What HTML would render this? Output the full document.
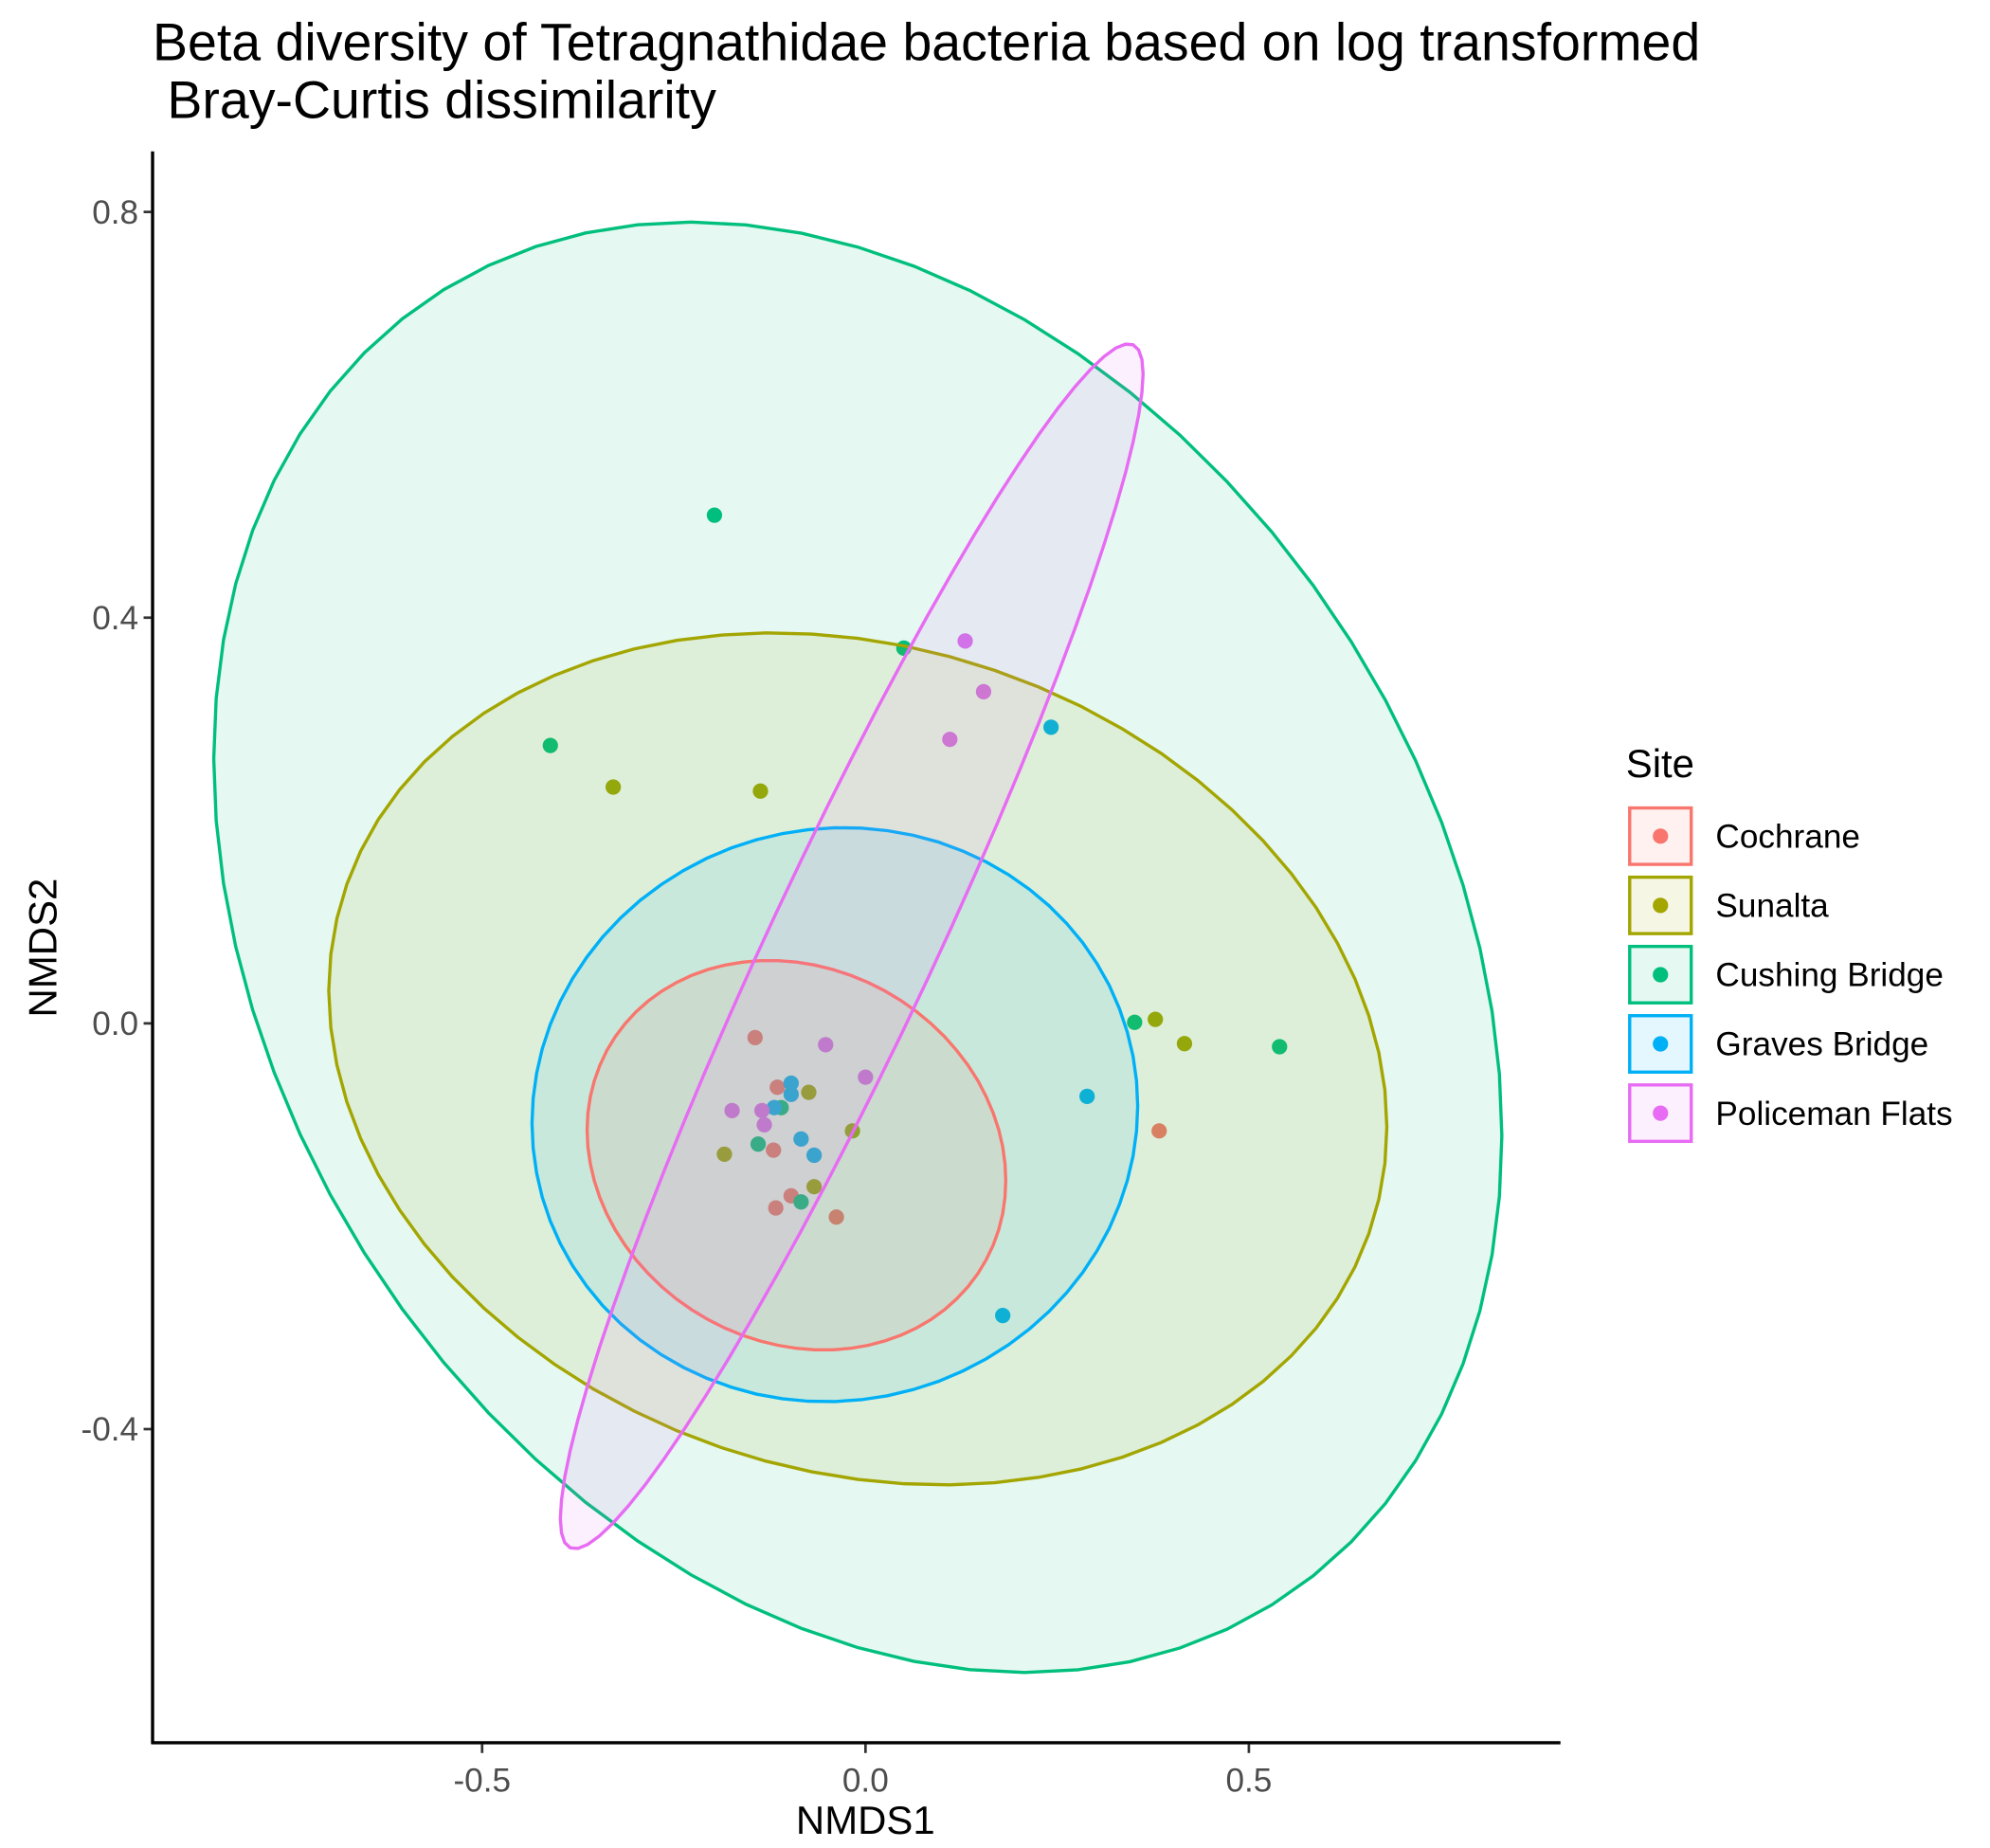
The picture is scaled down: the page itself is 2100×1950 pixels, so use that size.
<!DOCTYPE html>
<html><head><meta charset="utf-8"><style>html,body{margin:0;padding:0;background:#fff}svg{display:block}</style></head>
<body>
<svg width="2100" height="1950" viewBox="0 0 1552 1441" xmlns="http://www.w3.org/2000/svg" font-family="Liberation Sans, sans-serif">
<text x="119" y="47" font-size="41">Beta diversity of Tetragnathidae bacteria based on log transformed</text>
<text x="119" y="92" font-size="41" xml:space="preserve"> Bray-Curtis dissimilarity</text>
<g id="plot"></g>
<line x1="119" y1="118" x2="119" y2="1360" stroke="#000" stroke-width="2.5"/>
<line x1="118" y1="1359" x2="1217" y2="1359" stroke="#000" stroke-width="2.5"/>
<g id="ticks"></g>
<text x="675" y="1430" font-size="31" text-anchor="middle">NMDS1</text>
<text transform="translate(44,739) rotate(-90)" font-size="31" text-anchor="middle">NMDS2</text>
<text x="1268" y="606" font-size="31">Site</text>
<g id="legend"></g>
</svg>
<script>
const sites = ["Cochrane","Sunalta","Cushing Bridge","Graves Bridge","Policeman Flats"];
const colors = ["#F8766D","#A3A500","#00BF7D","#00B0F6","#E76BF3"];
const xs_Cochrane = [-0.144,-0.115,-0.120,-0.097,-0.117,-0.038,0.383];
const ys_Cochrane = [-0.014,-0.063,-0.125,-0.170,-0.182,-0.191,-0.106];
const xs_Sunalta = [-0.329,-0.137,-0.074,-0.017,-0.184,-0.067,0.378,0.416];
const ys_Sunalta = [0.233,0.229,-0.068,-0.106,-0.129,-0.161,0.004,-0.020];
const xs_Cushing = [-0.197,-0.411,0.050,0.351,0.540,-0.140,-0.110,-0.084];
const ys_Cushing = [0.501,0.274,0.370,0.001,-0.023,-0.119,-0.083,-0.176];
const xs_Graves = [0.242,0.289,0.179,-0.097,-0.097,-0.084,-0.067,-0.119];
const ys_Graves = [0.292,-0.072,-0.288,-0.059,-0.070,-0.114,-0.130,-0.083];
const xs_Police = [0.130,0.154,0.110,-0.052,0.000,-0.174,-0.135,-0.132];
const ys_Police = [0.377,0.327,0.280,-0.021,-0.053,-0.086,-0.086,-0.100];
const ellCx = [-0.09,-0.01,-0.01,-0.04,-0.018];
const ellCy = [-0.13,-0.035,0.075,-0.09,0.076];
const ellAx = [0.273,0.69,0.84,0.395,0.38];
const ellAy = [0.192,0.42,0.715,0.283,0.594];
const ellCos = [-0.13,-0.16,-0.26,0.03,0.95];
const xTicks = [-0.5,0.0,0.5];
const xTickLabels = ["-0.5","0.0","0.5"];
const yTicks = [0.8,0.4,0.0,-0.4];
const yTickLabels = ["0.8","0.4","0.0","-0.4"];

const sx = v => 675 + 598*v;
const sy = v => 798 - 791*v;
const NS = "http://www.w3.org/2000/svg";
const plot = document.getElementById('plot');
const ptsX = [xs_Cochrane,xs_Sunalta,xs_Cushing,xs_Graves,xs_Police];
const ptsY = [ys_Cochrane,ys_Sunalta,ys_Cushing,ys_Graves,ys_Police];
for (let s=0;s<5;s++){
  for (let i=0;i<ptsX[s].length;i++){
    const c=document.createElementNS(NS,'circle');
    c.setAttribute('cx',sx(ptsX[s][i]));c.setAttribute('cy',sy(ptsY[s][i]));
    c.setAttribute('r',6);c.setAttribute('fill',colors[s]);
    
    
    plot.appendChild(c);
  }
}
const order=[2,1,3,0,4];
for (const s of order){
  const phi=Math.acos(ellCos[s]);
  let d='';
  for(let k=0;k<=72;k++){
    const t=2*Math.PI*k/72;
    const x=sx(ellCx[s]+ellAx[s]*Math.cos(t));
    const y=sy(ellCy[s]+ellAy[s]*Math.cos(t-phi));
    d+=(k?'L':'M')+x.toFixed(1)+' '+y.toFixed(1);
  }
  const p=document.createElementNS(NS,'path');
  p.setAttribute('d',d+'Z');p.setAttribute('fill',colors[s]);p.setAttribute('fill-opacity','0.1');
  p.setAttribute('stroke',colors[s]);p.setAttribute('stroke-width','2.5');
  
  
  plot.appendChild(p);
}
const tk=document.getElementById('ticks');
xTicks.forEach((v,i)=>{
  const l=document.createElementNS(NS,'line');
  l.setAttribute('x1',sx(v));l.setAttribute('x2',sx(v));l.setAttribute('y1',1360);l.setAttribute('y2',1367);l.setAttribute('stroke','#333');l.setAttribute('stroke-width','2');
  
  
  tk.appendChild(l);
  const t=document.createElementNS(NS,'text');
  t.setAttribute('x',sx(v));t.setAttribute('y',1397);t.setAttribute('font-size','26');t.setAttribute('fill','#4d4d4d');t.setAttribute('text-anchor','middle');
  t.textContent=xTickLabels[i];
  
  
  tk.appendChild(t);
});
yTicks.forEach((v,i)=>{
  const l=document.createElementNS(NS,'line');
  l.setAttribute('x1',112);l.setAttribute('x2',118);l.setAttribute('y1',sy(v));l.setAttribute('y2',sy(v));l.setAttribute('stroke','#333');l.setAttribute('stroke-width','2');
  
  
  tk.appendChild(l);
  const t=document.createElementNS(NS,'text');
  t.setAttribute('x',108);t.setAttribute('y',sy(v)+9);t.setAttribute('font-size','26');t.setAttribute('fill','#4d4d4d');t.setAttribute('text-anchor','end');
  t.textContent=yTickLabels[i];
  
  
  tk.appendChild(t);
});
const lg=document.getElementById('legend');
sites.forEach((s,i)=>{
  const y=630+54*i;
  const r=document.createElementNS(NS,'rect');
  r.setAttribute('x',1271);r.setAttribute('y',y);r.setAttribute('width',48);r.setAttribute('height',44);
  r.setAttribute('fill',colors[i]);r.setAttribute('fill-opacity','0.1');r.setAttribute('stroke',colors[i]);r.setAttribute('stroke-width','2.5');
  
  
  lg.appendChild(r);
  const c=document.createElementNS(NS,'circle');
  c.setAttribute('cx',1295);c.setAttribute('cy',y+22);c.setAttribute('r',6);c.setAttribute('fill',colors[i]);
  
  
  lg.appendChild(c);
  const t=document.createElementNS(NS,'text');
  t.setAttribute('x',1338);t.setAttribute('y',y+31);t.setAttribute('font-size','26');
  t.textContent=s;
  
  
  lg.appendChild(t);
});
</script>
</body></html>
